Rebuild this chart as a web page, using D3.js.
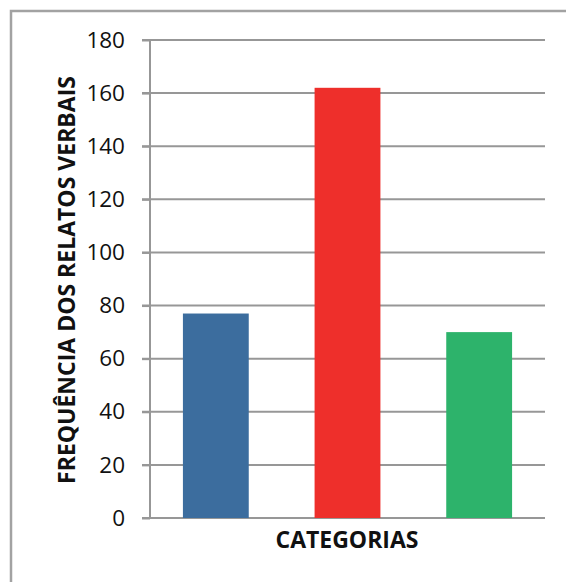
<!DOCTYPE html>
<html>
<head>
<meta charset="utf-8">
<script src="https://cdn.jsdelivr.net/npm/d3@7"></script>
<style>
  html, body { margin: 0; padding: 0; background: #fff; }
  svg { display: block; }
</style>
</head>
<body>
<svg id="chart" width="566" height="582"></svg>
<script>
// Bar chart data
const categories = ["A", "B", "C"];
const values = [77, 162, 70];
const barColors = ["#3c6d9e", "#ee2f2b", "#2db36b"];
const yTicks = [0, 20, 40, 60, 80, 100, 120, 140, 160, 180];
const xTitle = "CATEGORIAS";
const yTitle = "FREQUÊNCIA DOS RELATOS VERBAIS";

const svg = d3.select("#chart");
const margin = { left: 150, right: 21, top: 40, bottom: 64 };
const W = 566, H = 582;
const plotW = W - margin.left - margin.right;
const plotH = H - margin.top - margin.bottom;
const gridColor = "#979797";

// outer frame, running past the right and bottom edges
svg.append("rect")
  .attr("x", 11).attr("y", 11)
  .attr("width", 600).attr("height", 600)
  .attr("fill", "none")
  .attr("stroke", "#a2a2a2")
  .attr("stroke-width", 2.5);

const g = svg.append("g").attr("transform", `translate(${margin.left},${margin.top})`);

const x = d3.scaleBand().domain(categories).range([0, plotW])
  .paddingInner(0.5).paddingOuter(0.25);
const y = d3.scaleLinear().domain([0, 180]).range([plotH, 0]);

// horizontal gridlines
g.append("g").selectAll("line").data(yTicks).join("line")
  .attr("x1", -8).attr("x2", plotW)
  .attr("y1", d => y(d)).attr("y2", d => y(d))
  .attr("stroke", gridColor).attr("stroke-width", 2);

// y axis with tick labels
const yAxis = g.append("g")
  .call(d3.axisLeft(y).tickValues(yTicks).tickSize(8).tickPadding(17));
yAxis.select(".domain").attr("stroke", gridColor).attr("stroke-width", 2)
  .attr("d", `M0,${y(0)}V${y(180)}`);
yAxis.selectAll(".tick line").attr("stroke", gridColor).attr("stroke-width", 2);
yAxis.selectAll(".tick text")
  .attr("fill", "#111")
  .style("font-family", "'Open Sans', sans-serif")
  .style("font-size", "22.5px");

// bars
g.append("g").selectAll("rect").data(values).join("rect")
  .attr("x", (d, i) => x(categories[i]))
  .attr("width", x.bandwidth())
  .attr("y", d => y(d))
  .attr("height", d => y(0) - y(d))
  .attr("fill", (d, i) => barColors[i]);

// axis titles
svg.append("text")
  .attr("x", 347).attr("y", 548)
  .attr("text-anchor", "middle")
  .style("font-family", "'Open Sans', sans-serif")
  .style("font-weight", "700")
  .style("font-size", "23px")
  .attr("fill", "#111")
  .text(xTitle);

svg.append("text")
  .attr("transform", "translate(75,280) rotate(-90)")
  .attr("text-anchor", "middle")
  .style("font-family", "'Open Sans', sans-serif")
  .style("font-weight", "700")
  .style("font-size", "23px")
  .attr("fill", "#111")
  .text(yTitle);
</script>
</body>
</html>
